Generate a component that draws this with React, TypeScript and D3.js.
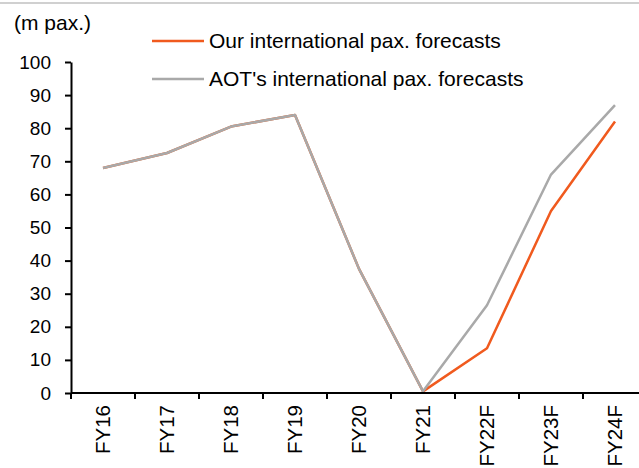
import { useEffect, useRef } from "react";
import { axisBottom, axisLeft, line, scaleBand, scaleLinear, select, ScaleBand, ScaleLinear } from "d3";

const categories = ["FY16", "FY17", "FY18", "FY19", "FY20", "FY21", "FY22F", "FY23F", "FY24F"];
const ourForecast = [68, 72.5, 80.5, 84, 37.5, 0.5, 13.5, 55, 82];
const aotForecast = [68, 72.5, 80.5, 84, 37.5, 0.5, 26.5, 66, 87];
const yTicks = [0, 10, 20, 30, 40, 50, 60, 70, 80, 90, 100];
const seriesNames = ["Our international pax. forecasts", "AOT's international pax. forecasts"];

const WIDTH = 639;
const HEIGHT = 468;
const FONT = "Liberation Sans, Arial, sans-serif";
const ORANGE = "#f05a1e";
const GREY = "#a9a9a9";

function AxisLeft({ scale, x }: { scale: ScaleLinear<number, number>; x: number }) {
    const ref = useRef<SVGGElement>(null);
    useEffect(() => {
        if (!ref.current) return;
        const g = select(ref.current);
        g.call(axisLeft(scale).tickValues(yTicks).tickSize(6).tickSizeOuter(0).tickPadding(14));
        g.select(".domain").attr("stroke", "#000").attr("stroke-width", 2);
        g.selectAll(".tick line").attr("stroke", "#000").attr("stroke-width", 2);
        g.selectAll(".tick text")
            .attr("font-family", FONT)
            .attr("font-size", 19)
            .attr("fill", "#000");
    }, [scale]);
    return <g ref={ref} transform={`translate(${x},0)`} />;
}

function AxisBottom({ scale, y }: { scale: ScaleBand<string>; y: number }) {
    const ref = useRef<SVGGElement>(null);
    useEffect(() => {
        if (!ref.current) return;
        const g = select(ref.current);
        g.call(axisBottom(scale).tickSize(0).tickSizeOuter(0));
        g.select(".domain").remove();
        g.selectAll(".tick line").remove();
        g.selectAll(".tick text")
            .attr("font-family", FONT)
            .attr("font-size", 20.5)
            .attr("fill", "#000")
            .attr("text-anchor", "end")
            .attr("transform", "rotate(-90)")
            .attr("x", -12)
            .attr("y", 0)
            .attr("dy", "0.35em");
        // boundary ticks between bands
        const step = scale.step();
        const [r0] = scale.range();
        const bounds = categories.map((_, i) => r0 + i * step).concat([r0 + categories.length * step]);
        g.selectAll(".bound")
            .data(bounds)
            .join("line")
            .attr("class", "bound")
            .attr("x1", (d) => d)
            .attr("x2", (d) => d)
            .attr("y1", 0)
            .attr("y2", 6)
            .attr("stroke", "#000")
            .attr("stroke-width", 2);
        g.append("line")
            .attr("x1", r0)
            .attr("x2", WIDTH)
            .attr("y1", 0)
            .attr("y2", 0)
            .attr("stroke", "#000")
            .attr("stroke-width", 2);
    }, [scale]);
    return <g ref={ref} transform={`translate(0,${y})`} />;
}

export default function App() {
    const left = 71;
    const top = 62;
    const bottom = 393;

    const x = scaleBand<string>().domain(categories).range([left, left + 64 * categories.length]).padding(0);
    const y = scaleLinear().domain([0, 100]).range([bottom, top]);

    const path = line<number>()
        .x((_, i) => (x(categories[i]) ?? 0) + x.bandwidth() / 2)
        .y((d) => y(d));

    return (
        <svg
            width={WIDTH}
            height={HEIGHT}
            style={{ position: "absolute", left: 0, top: 0, background: "#fff" }}
        >
            <line x1={0} x2={WIDTH} y1={3} y2={3} stroke="#c0c0c0" strokeWidth={1.5} />
            <text x={14} y={30} fontFamily={FONT} fontSize={21} fill="#000">(m pax.)</text>

            <path d={path(ourForecast) ?? ""} fill="none" stroke={ORANGE} strokeWidth={2.5} strokeLinejoin="round" />
            <path d={path(aotForecast) ?? ""} fill="none" stroke={GREY} strokeWidth={2.5} strokeLinejoin="round" />

            <AxisLeft scale={y} x={left} />
            <AxisBottom scale={x} y={bottom} />

            {seriesNames.map((name, i) => (
                <g key={name} transform={`translate(152,${41 + i * 38})`}>
                    <line x1={0} x2={52} y1={0} y2={0} stroke={i === 0 ? ORANGE : GREY} strokeWidth={2.5} />
                    <text x={57} y={0} dy="0.35em" fontFamily={FONT} fontSize={21} fill="#000">{name}</text>
                </g>
            ))}
        </svg>
    );
}
